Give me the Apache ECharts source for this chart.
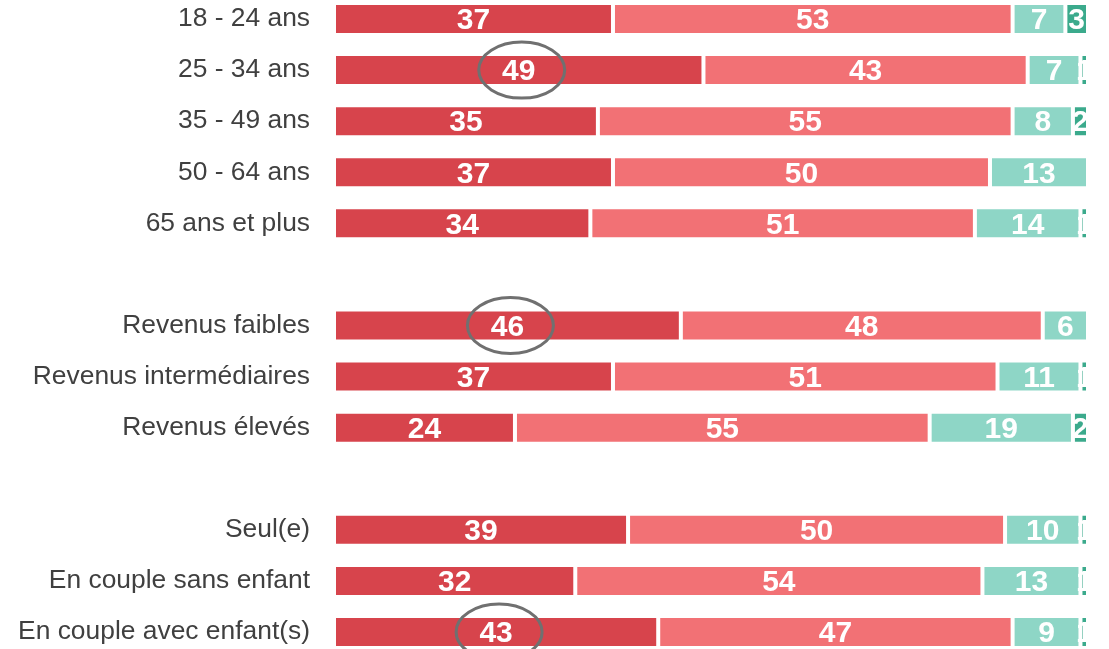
<!DOCTYPE html>
<html>
<head>
<meta charset="utf-8">
<script src="https://cdn.jsdelivr.net/npm/echarts@6/dist/echarts.min.js"></script>
<style>
  html, body { margin: 0; padding: 0; background: #fff; }
  #chart { width: 1109px; height: 649px; }
</style>
</head>
<body>
<div id="chart"></div>
<script>
// rows, blank slots separate the three groups
const categories = [
  "18 - 24 ans", "25 - 34 ans", "35 - 49 ans", "50 - 64 ans", "65 ans et plus",
  " ",
  "Revenus faibles", "Revenus intermédiaires", "Revenus élevés",
  "  ",
  "Seul(e)", "En couple sans enfant", "En couple avec enfant(s)"
];
const valuesA = [37, 49, 35, 37, 34, null, 46, 37, 24, null, 39, 32, 43];
const valuesB = [53, 43, 55, 50, 51, null, 48, 51, 55, null, 50, 54, 47];
const valuesC = [7, 7, 8, 13, 14, null, 6, 11, 19, null, 10, 13, 9];
const valuesD = [3, 1, 2, 0, 1, null, 0, 1, 2, null, 1, 1, 1];
// rows whose first value is circled
const circled = [1, 6, 12];

const colors = ["#D7444C", "#F27175", "#8ED6C6", "#3BAA8C"];

function makeSeries(name, data, color) {
  return {
    name: name,
    type: "bar",
    stack: "total",
    barWidth: 32,
    clip: true,
    itemStyle: { color: color, borderColor: "#ffffff", borderWidth: 2 },
    label: {
      show: true,
      position: "inside",
      offset: [0, 2],
      color: "#ffffff",
      fontFamily: "Liberation Sans",
      fontWeight: "bold",
      fontSize: 30,
      formatter: (p) => (p.value ? String(p.value) : "")
    },
    data: data
  };
}

let chart = echarts.init(document.getElementById("chart"));
let option = {
  animation: false,
  grid: {
    left: 334,
    right: 21,
    top: -6.5,
    height: 664,
    containLabel: false,
    outerBoundsMode: "none"
  },
  xAxis: { type: "value", min: 0, max: 100, show: false },
  yAxis: {
    type: "category",
    inverse: true,
    data: categories,
    axisLine: { show: false },
    axisTick: { show: false },
    axisLabel: {
      margin: 24,
      padding: [3, 0, 0, 0],
      color: "#404040",
      fontFamily: "Liberation Sans",
      fontSize: 26.4
    }
  },
  series: [
    makeSeries("a", valuesA, colors[0]),
    makeSeries("b", valuesB, colors[1]),
    makeSeries("c", valuesC, colors[2]),
    makeSeries("d", valuesD, colors[3])
  ]
};
chart.setOption(option);

// gray ellipses round the highlighted labels, plus the cut at the right edge
let elements = circled.map((i) => {
  let pt = chart.convertToPixel({ gridIndex: 0 }, [valuesA[i] / 2, i]);
  return {
    type: "ellipse",
    z: 100,
    shape: { cx: pt[0] + 3, cy: pt[1], rx: 43, ry: 28 },
    style: { fill: "none", stroke: "#707070", lineWidth: 3 }
  };
});
elements.push({
  type: "rect",
  z: 100,
  shape: { x: 1087, y: 0, width: 30, height: 649 },
  style: { fill: "#ffffff" }
});
chart.setOption({ graphic: { elements: elements } });
</script>
</body>
</html>
